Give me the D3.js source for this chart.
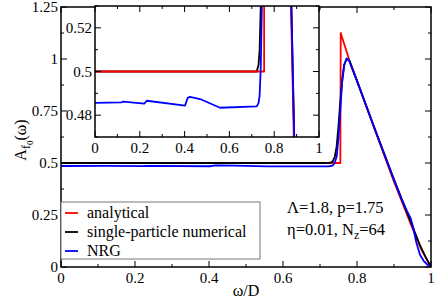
<!DOCTYPE html>
<html>
<head>
<meta charset="utf-8">
<script src="https://cdn.jsdelivr.net/npm/d3@7"></script>
</head>
<body style="margin:0">
<svg id="chart" width="436" height="301"></svg>
<script>
// values: [omega/D, A]
const analytical = [
  [0, 0.5], [0.755, 0.5], [0.756, 1.125], [0.78, 0.99], [0.8, 0.895],
  [0.85, 0.65], [0.9, 0.41], [0.95, 0.185], [0.975, 0.08], [1, 0]
];
const numerical = [
  [0, 0.5], [0.722, 0.5], [0.73, 0.503], [0.735, 0.51], [0.74, 0.53],
  [0.745, 0.58], [0.75, 0.68], [0.755, 0.8], [0.76, 0.9], [0.765, 0.97],
  [0.772, 1.0], [0.78, 0.99], [0.8, 0.895], [0.85, 0.655], [0.9, 0.42],
  [0.95, 0.195], [0.97, 0.105], [0.985, 0.05], [1, 0]
];
const nrg = [
  [0, 0.4856], [0.119, 0.4859], [0.125, 0.4862], [0.22, 0.4853], [0.231, 0.4866],
  [0.402, 0.4844], [0.414, 0.4879], [0.424, 0.4884], [0.469, 0.4874], [0.558, 0.4834],
  [0.722, 0.484], [0.73, 0.4855], [0.735, 0.489], [0.74, 0.502], [0.745, 0.53],
  [0.75, 0.62], [0.755, 0.76], [0.76, 0.89], [0.766, 0.975], [0.772, 1.003],
  [0.778, 0.995], [0.8, 0.895], [0.85, 0.655], [0.9, 0.42], [0.92, 0.33],
  [0.935, 0.27], [0.945, 0.235], [0.952, 0.19], [0.96, 0.12], [0.97, 0.06],
  [0.98, 0.03], [0.99, 0.012], [1, 0]
];

const xTicks = [0, 0.2, 0.4, 0.6, 0.8, 1];
const xMinor = [0.1, 0.3, 0.5, 0.7, 0.9];
const yTicks = [0, 0.25, 0.5, 0.75, 1, 1.25];
const yMinor = [0.125, 0.375, 0.625, 0.875, 1.125];
const insetYTicks = [0.48, 0.5, 0.52];
const insetYMinor = [0.47, 0.49, 0.51, 0.53];

const series = [
  { name: "analytical", data: analytical, color: "#ff0000" },
  { name: "single-particle numerical", data: numerical, color: "#000000" },
  { name: "NRG", data: nrg, color: "#0000ff" }
];

const svg = d3.select("#chart");

function txt(g, size) {
  return g.append("text")
    .style("font-family", '"Times New Roman"')
    .style("font-size", size + "px");
}

// axis frame with inward ticks on all four sides
function frame(g, x, y, xt, xm, yt, ym, xfmt, yfmt, major, minor) {
  const [x0, x1] = x.range();
  const [y0, y1] = y.range();
  const tk = g.append("g").attr("stroke", "#000").attr("stroke-width", 1);
  xt.concat(xm).forEach(v => {
    const len = xt.includes(v) ? major : minor;
    tk.append("line").attr("x1", x(v)).attr("x2", x(v)).attr("y1", y0).attr("y2", y0 - len);
    tk.append("line").attr("x1", x(v)).attr("x2", x(v)).attr("y1", y1).attr("y2", y1 + len);
  });
  yt.concat(ym).forEach(v => {
    const len = yt.includes(v) ? major : minor;
    tk.append("line").attr("y1", y(v)).attr("y2", y(v)).attr("x1", x0).attr("x2", x0 + len);
    tk.append("line").attr("y1", y(v)).attr("y2", y(v)).attr("x1", x1).attr("x2", x1 - len);
  });
  g.append("rect")
    .attr("x", x0).attr("y", y1)
    .attr("width", x1 - x0).attr("height", y0 - y1)
    .attr("fill", "none").attr("stroke", "#000").attr("stroke-width", 1.5);

  xt.forEach(d => {
    txt(g, 15).attr("x", x(d)).attr("y", y0 + 16)
      .attr("text-anchor", "middle").text(xfmt(d));
  });
  yt.forEach(d => {
    txt(g, 15).attr("x", x0 - 3).attr("y", y(d) + 5)
      .attr("text-anchor", "end").text(yfmt(d));
  });
}

function drawLines(g, x, y, order, clipId) {
  const line = d3.line().x(d => x(d[0])).y(d => y(d[1]));
  order.forEach(s => {
    g.append("path")
      .datum(s.data)
      .attr("clip-path", `url(#${clipId})`)
      .attr("fill", "none")
      .attr("stroke", s.color)
      .attr("stroke-width", 1.8)
      .attr("stroke-linejoin", "round")
      .attr("d", line);
  });
}

// main plot
const x = d3.scaleLinear().domain([0, 1]).range([61, 431]);
const y = d3.scaleLinear().domain([0, 1.25]).range([267, 7]);

const defs = svg.append("defs");
defs.append("clipPath").attr("id", "clipMain").append("rect")
  .attr("x", 61).attr("y", 7).attr("width", 370).attr("height", 260);

const main = svg.append("g");
drawLines(main, x, y, series, "clipMain");
frame(main, x, y, xTicks, xMinor, yTicks, yMinor,
  d => d === 0 || d === 1 ? String(d) : d3.format(".1f")(d),
  d => String(d),
  6, 3);

// axis titles
txt(svg, 16).attr("x", 246).attr("y", 296)
  .attr("text-anchor", "middle").text("ω/D");

const yl = txt(svg, 16)
  .attr("transform", "translate(26,140) rotate(-90)")
  .attr("text-anchor", "middle");
yl.append("tspan").text("A");
yl.append("tspan").style("font-size", "12px").attr("dy", 4).text("f");
yl.append("tspan").style("font-size", "9px").attr("dy", 3).text("0");
yl.append("tspan").style("font-size", "16px").attr("dy", -7).text("(ω)");

// legend
const leg = svg.append("g");
leg.append("rect")
  .attr("x", 61).attr("y", 202).attr("width", 199).attr("height", 57)
  .attr("fill", "#fff").attr("stroke", "#777").attr("stroke-width", 1);
series.forEach((s, i) => {
  const ly = 213 + i * 19;
  leg.append("line")
    .attr("x1", 65).attr("x2", 78).attr("y1", ly).attr("y2", ly)
    .attr("stroke", s.color).attr("stroke-width", 1.8);
  txt(leg, 16).attr("x", 87).attr("y", ly + 5).text(s.name);
});

// parameters
txt(svg, 16.5).attr("x", 287).attr("y", 213).text("Λ=1.8, p=1.75");
const p2 = txt(svg, 16.5).attr("x", 287).attr("y", 235);
p2.append("tspan").text("η=0.01, N");
p2.append("tspan").style("font-size", "12px").attr("dy", 4).text("z");
p2.append("tspan").style("font-size", "16.5px").attr("dy", -4).text("=64");

// inset
const xi = d3.scaleLinear().domain([0, 1]).range([95, 319]);
const yi = d3.scaleLinear().domain([0.47, 0.53]).range([137, 6]);
defs.append("clipPath").attr("id", "clipInset").append("rect")
  .attr("x", 95).attr("y", 6).attr("width", 224).attr("height", 131);

const inset = svg.append("g");
inset.append("rect")
  .attr("x", 95).attr("y", 6).attr("width", 224).attr("height", 131)
  .attr("fill", "#fff");
drawLines(inset, xi, yi, [series[1], series[0], series[2]], "clipInset");
frame(inset, xi, yi, xTicks, xMinor, insetYTicks, insetYMinor,
  d => d === 0 || d === 1 ? String(d) : d3.format(".1f")(d),
  d => String(d),
  6, 3);
</script>
</body>
</html>
